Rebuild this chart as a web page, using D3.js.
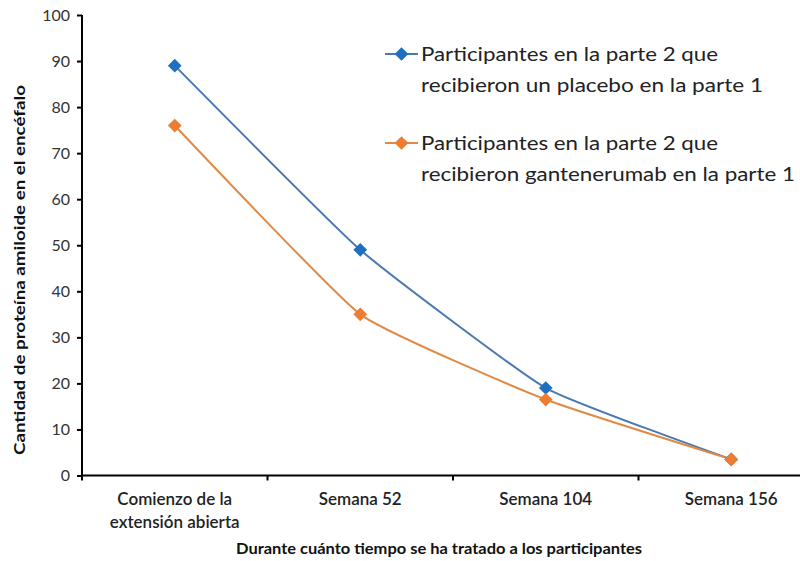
<!DOCTYPE html>
<html><head><meta charset="utf-8">
<script src="https://cdn.jsdelivr.net/npm/d3@7"></script>
<style>body{margin:0;background:#fff}svg{display:block}</style>
</head><body>
<svg id="c" width="800" height="561"></svg>
<script>
const categories = [["Comienzo de la","extensión abierta"],["Semana 52"],["Semana 104"],["Semana 156"]];
const placebo = [89, 49, 19, 3.5];
const gantenerumab = [76, 35, 16.5, 3.5];
const yTicks = [0,10,20,30,40,50,60,70,80,90,100];
const seriesNames = [["Participantes en la parte 2 que","recibieron un placebo en la parte 1"],
                     ["Participantes en la parte 2 que","recibieron gantenerumab en la parte 1"]];
const yTitle = "Cantidad de proteína amiloide en el encéfalo";
const xTitle = "Durante cuánto tiempo se ha tratado a los participantes";

const svg = d3.select("#c");
const font = "Lato, 'Open Sans', sans-serif";
const x = d3.scaleBand().domain(d3.range(categories.length)).range([82, 824]);
const y = d3.scaleLinear().domain([0,100]).range([475.5, 15]);

// y axis
const ya = svg.append("g").attr("transform","translate(82,0)")
  .call(d3.axisLeft(y).tickValues(yTicks).tickSize(5).tickPadding(7));
ya.select(".domain").attr("stroke","#000").attr("stroke-width",2).attr("d","M0,15V476");
ya.selectAll(".tick line").attr("stroke","#000").attr("stroke-width",2);
ya.selectAll(".tick text").attr("font-family",font).attr("font-size",16).attr("fill","#333");

// x axis
const xa = svg.append("g").attr("transform","translate(0,475.5)")
  .call(d3.axisBottom(x).tickSize(0).tickFormat(""));
xa.select(".domain").attr("stroke","#000").attr("stroke-width",2).attr("d","M81,0H824");
const bounds = d3.range(categories.length+1).map(i => i<categories.length ? x(i) : x(i-1)+x.bandwidth());
svg.append("g").selectAll("line").data(bounds).join("line")
  .attr("x1",d=>d).attr("x2",d=>d).attr("y1",475.5).attr("y2",480.5)
  .attr("stroke","#000").attr("stroke-width",2);
const cl = svg.append("g").selectAll("text").data(categories).join("text")
  .attr("font-family",font).attr("font-size",17).attr("font-weight",600).attr("fill","#222")
  .attr("text-anchor","middle");
cl.each(function(d,i){
  d3.select(this).selectAll("tspan").data(d).join("tspan")
    .attr("x", x(i)+x.bandwidth()/2).attr("y",(t,j)=>505+j*23).text(t=>t);
});

// titles
svg.append("text").attr("transform","translate(25,270) rotate(-90)")
  .attr("text-anchor","middle").attr("font-family",font).attr("font-size",15.5)
  .attr("font-weight",700).attr("fill","#111")
  .attr("textLength",370).attr("lengthAdjust","spacingAndGlyphs").text(yTitle);
svg.append("text").attr("x",439).attr("y",554)
  .attr("text-anchor","middle").attr("font-family",font).attr("font-size",15.5)
  .attr("font-weight",700).attr("fill","#111")
  .attr("textLength",406).attr("lengthAdjust","spacingAndGlyphs").text(xTitle);

// lines
const colors = ["#1F6FC0","#ED7D31"];
const lineColors = ["#4A78B0","#E08A45"];
const data = [placebo, gantenerumab];
const line = d3.line().x((d,i)=>x(i)+x.bandwidth()/2).y(d=>y(d)).curve(d3.curveCardinal.tension(0.6));
const diamond = d3.symbol().type(d3.symbolDiamond2).size(120);
data.forEach((s,k)=>{
  svg.append("path").datum(s).attr("d",line).attr("fill","none")
    .attr("stroke",lineColors[k]).attr("stroke-width",2);
});
data.forEach((s,k)=>{
  svg.append("g").selectAll("path").data(s).join("path")
    .attr("d",diamond).attr("fill",colors[k])
    .attr("transform",(d,i)=>`translate(${x(i)+x.bandwidth()/2},${y(d)})`);
});

// legend
const legY = [54, 143];
const legLens = [[297,342],[297,374]];
seriesNames.forEach((nm,k)=>{
  const g = svg.append("g");
  g.append("line").attr("x1",385).attr("x2",418).attr("y1",legY[k]).attr("y2",legY[k])
    .attr("stroke",lineColors[k]).attr("stroke-width",2);
  g.append("path").attr("d",diamond).attr("fill",colors[k])
    .attr("transform",`translate(401.5,${legY[k]})`);
  nm.forEach((t,j)=>{
    g.append("text").attr("font-family",font).attr("font-size",19.5).attr("fill","#222")
      .attr("x",421).attr("y",legY[k]+7+j*31)
      .attr("textLength",legLens[k][j]).attr("lengthAdjust","spacingAndGlyphs").text(t);
  });
});
</script>
</body></html>
